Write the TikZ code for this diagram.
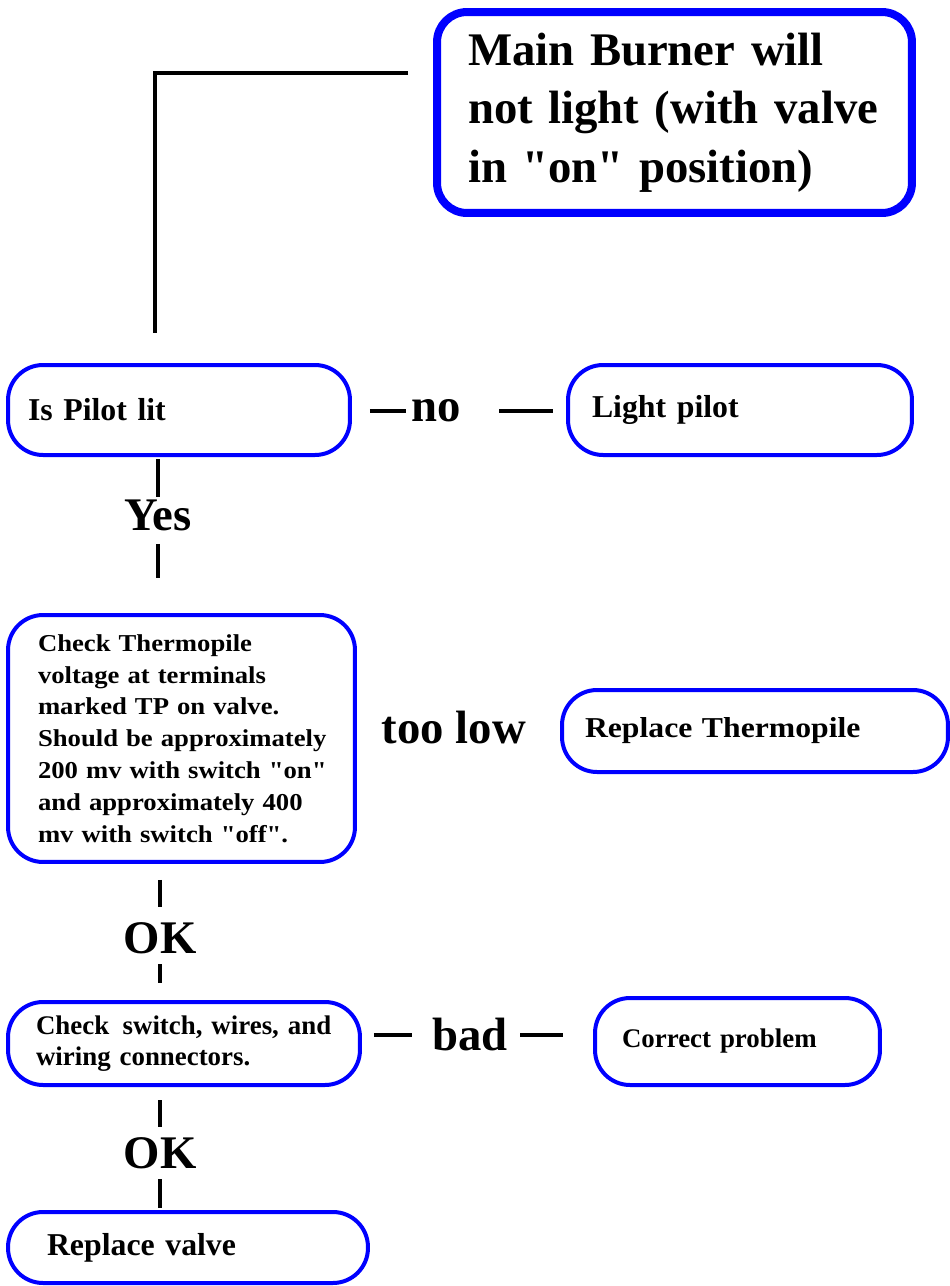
\documentclass[tikz,border=0pt]{standalone}
\usepackage{fontspec}
\setmainfont{Liberation Serif}[Ligatures=TeXOff]
\newfontfamily\wideserif{Liberation Serif}[Ligatures=TeXOff, FakeStretch=1.1]
\usetikzlibrary{calc}
\tikzset{
  fault box/.style={
    draw=blue,
    line width=0.08cm,
    rounded corners=0.7cm,
    align=left,
    inner ysep=0pt
  },
  title box/.style={
    fault box,
    line width=0.16cm,
    rounded corners=0.6cm
  },
  link/.style={
    line width=0.08cm,
    color=black
  },
  branch label/.style={
    inner sep=0pt,
    font=\fontsize{26.6pt}{31.7pt}\selectfont\bfseries
  }
}
\newcommand{\midfont}{\fontsize{18.1pt}{21pt}\selectfont\bfseries}
\newcommand{\smallfont}{\fontsize{15.3pt}{17.6pt}\selectfont\bfseries}

\begin{document}
\begin{tikzpicture}[x=0.02cm, y=-0.02cm]
  \useasboundingbox (0,0) rectangle (950,1286);

  %% ---- boxes ----
  \node[title box, minimum width=9.5cm, minimum height=4.02cm, inner xsep=0.62cm, text width=8.26cm,
        font=\fontsize{26.6pt}{33.4pt}\selectfont\bfseries] (title) at (674.5,112.5)
        {Main Burner will\\ not light (with valve\\ in "on" position)};
  \node[fault box, minimum width=6.84cm, minimum height=1.8cm, inner xsep=0.4cm, text width=6.04cm, font=\midfont]
        (pilot) at (179,410) {Is Pilot lit};
  \node[fault box, minimum width=6.88cm, minimum height=1.8cm, inner xsep=0.48cm, text width=5.92cm, font=\midfont]
        (light) at (740,410) {Light pilot};
  \node[fault box, minimum width=6.94cm, minimum height=4.94cm, inner xsep=0.6cm, text width=5.74cm,
        font=\wideserif\fontsize{13.8pt}{18.1pt}\selectfont\bfseries]
        (thermo) at (181.5,738.5)
        {\mbox{Check Thermopile}\\ \mbox{voltage at terminals}\\ \mbox{marked TP on valve.}\\
         \mbox{Should be approximately}\\ \mbox{200 mv with switch "on"}\\
         \mbox{and approximately 400}\\ \mbox{mv with switch "off".}};
  \node[fault box, minimum width=7.72cm, minimum height=1.64cm, inner xsep=0.46cm, text width=6.8cm,
        font=\wideserif\fontsize{16.4pt}{19pt}\selectfont\bfseries]
        (newpile) at (755,731) {Replace Thermopile};
  \node[fault box, minimum width=7.04cm, minimum height=1.66cm, inner xsep=0.56cm, text width=5.92cm, font=\smallfont]
        (switch) at (184,1043.5) {\mbox{Check\enspace switch, wires, and}\\ wiring connectors.};
  \node[fault box, minimum width=5.7cm, minimum height=1.74cm, inner xsep=0.54cm, text width=4.62cm, font=\smallfont]
        (correct) at (737.5,1041.5) {Correct problem};
  \node[fault box, minimum width=7.2cm, minimum height=1.42cm, inner xsep=0.78cm, text width=5.64cm, font=\midfont]
        (valve) at (188,1247.5) {Replace valve};

  %% ---- branch labels ----
  \node[branch label] (no)     at (436,411)  {no};
  \node[branch label] (yes)    at (158,515)  {Yes};
  \node[branch label] (toolow) at (454,728)  {too low};
  \node[branch label] (ok1)    at (160,938)  {OK};
  \node[branch label] (bad)    at (470,1035) {bad};
  \node[branch label] (ok2)    at (160,1153) {OK};

  %% ---- connectors ----
  \coordinate (turn) at (155,73);
  \draw[link, shorten <=0.5cm, shorten >=0.6cm] (title.west |- turn) -- (turn) -- (turn |- pilot.north);

  \draw[link, shorten <=0.36cm, shorten >=0.1cm]  (pilot.east |- no.west) -- (no.west);
  \draw[link, shorten <=0.76cm, shorten >=0.26cm] (no.east) -- (light.west |- no.east);

  \draw[link, shorten <=0.04cm, shorten >=0.04cm] (pilot.south -| yes) -- (yes.north);
  \draw[link, shorten <=0.26cm, shorten >=0.7cm]  (yes.south) -- (yes.south |- thermo.north);

  \draw[link, shorten <=0.32cm, shorten >=0.3cm]  (thermo.south -| ok1) -- (ok1.north);
  \draw[link, shorten <=0.2cm, shorten >=0.34cm]  (ok1.south) -- (ok1.south |- switch.north);

  \draw[link, shorten <=0.24cm, shorten >=0.4cm]  (switch.east |- bad.west) -- (bad.west);
  \draw[link, shorten <=0.24cm, shorten >=0.6cm]  (bad.east) -- (correct.west |- bad.east);

  \draw[link, shorten <=0.26cm, shorten >=0.2cm]  (switch.south -| ok2) -- (ok2.north);
  \draw[link, shorten <=0.2cm, shorten >=0.04cm]  (ok2.south) -- (ok2.south |- valve.north);
\end{tikzpicture}
\end{document}
